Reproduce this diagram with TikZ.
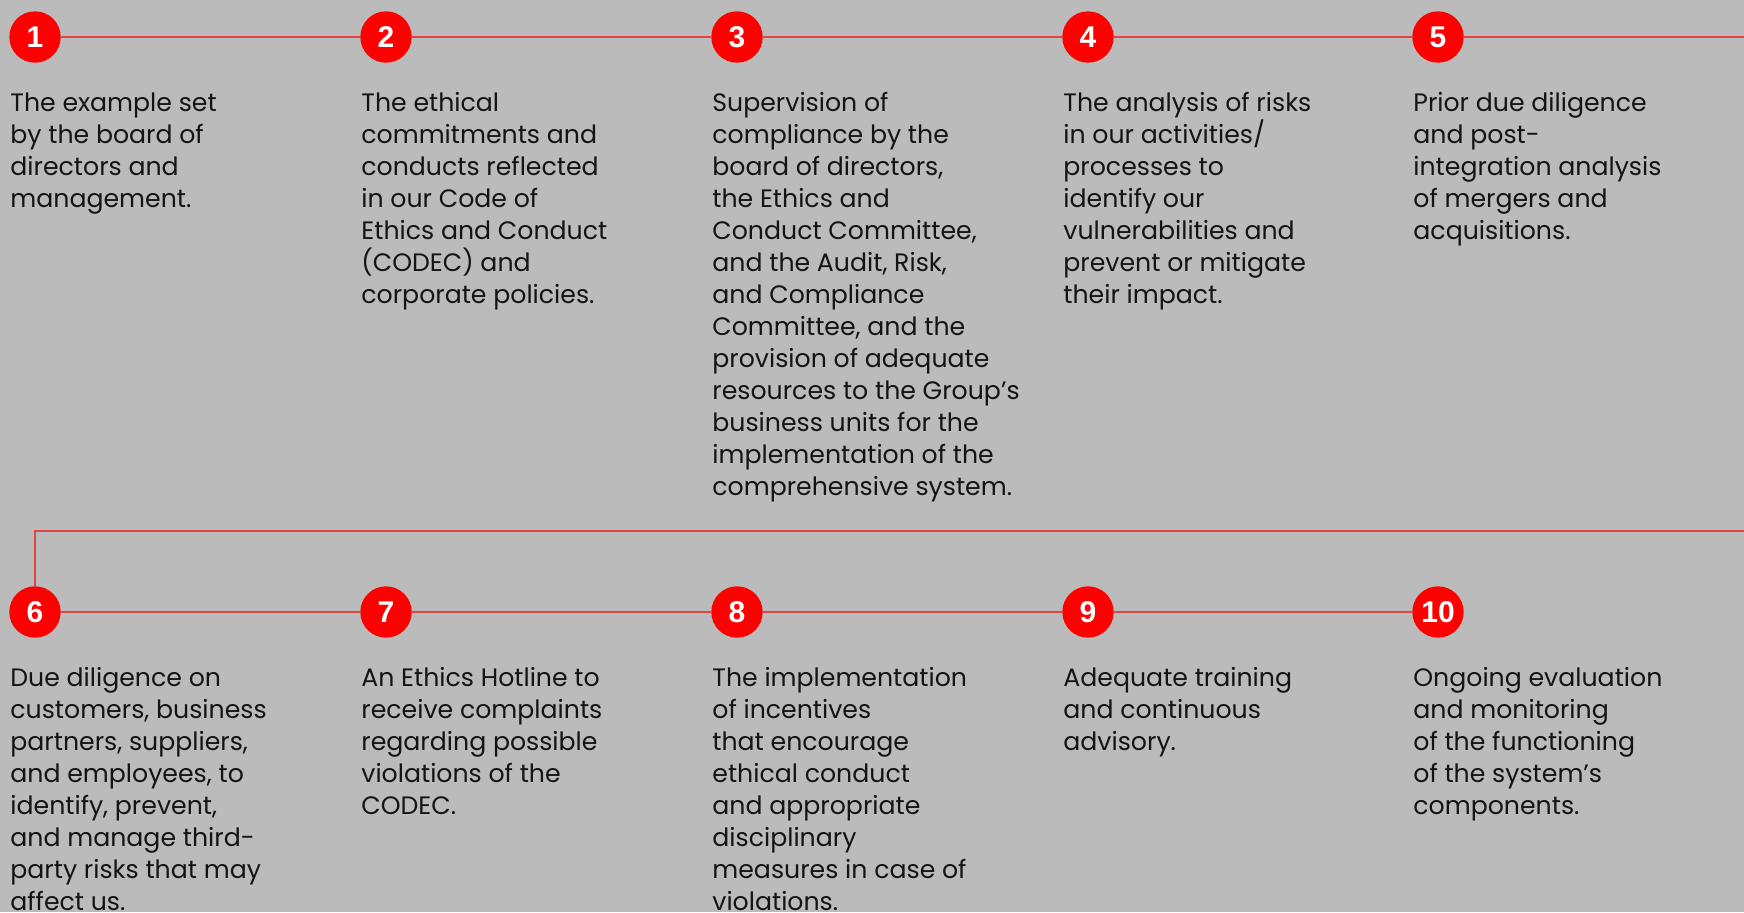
\documentclass[tikz,border=0pt]{standalone}
\usepackage{fontspec}
\setmainfont{Poppins}
\newfontfamily\numfont{Liberation Sans}
\usetikzlibrary{positioning, calc}

\definecolor{bggray}{RGB}{187,187,187}
\definecolor{dotred}{RGB}{255,0,0}
\definecolor{linkred}{RGB}{225,70,70}
\definecolor{inkgray}{RGB}{20,20,20}

\tikzset{
	numdot/.style={circle, fill=dotred, inner sep=0pt, minimum size=25.7pt, text=white, font=\numfont\bfseries\fontsize{15}{15}\selectfont},
	link/.style={draw=linkred, line width=0.6pt},
	desc/.style={anchor=north west, inner sep=0pt, align=left, text=inkgray, font=\fontsize{12.6}{16.0}\selectfont}
}

\begin{document}
\begin{tikzpicture}[x=0.5pt, y=-0.5pt]
		\useasboundingbox (0,0) rectangle (1744,912);
		\fill[bggray] (0,0) rectangle (1744,912);
		% numbered dots, two rows
		\foreach \i/\x in {1/35, 2/386, 3/737, 4/1088, 5/1438}
			\node[numdot] (n\i) at (\x,37) {\i};
		\foreach \i/\x in {6/35, 7/386, 8/737, 9/1088, 10/1438}
			\node[numdot] (n\i) at (\x,612) {\i};
		\coordinate (rt) at (1744,37);
		\coordinate (rb) at (1744,531);
		% timeline
		\foreach \a/\b in {1/2, 2/3, 3/4, 4/5, 6/7, 7/8, 8/9, 9/10}
			\draw[link] (n\a) -- (n\b);
		\draw[link] (n5) -- (rt);
		\draw[link] (rb) -| (n6);
		% texts
		\node[desc] (t1) at (10,92) {The example set\\by the board of\\directors and\\management.};
		\node[desc] (t2) at (361,92) {The ethical\\commitments and\\conducts reflected\\in our Code of\\Ethics and Conduct\\(CODEC) and\\corporate policies.};
		\node[desc] (t3) at (712,92) {Supervision of\\compliance by the\\board of directors,\\the Ethics and\\Conduct Committee,\\and the Audit, Risk,\\and Compliance\\Committee, and the\\provision of adequate\\resources to the Group’s\\business units for the\\implementation of the\\comprehensive system.};
		\node[desc] (t4) at (1063,92) {The analysis of risks\\in our activities/\\processes to\\identify our\\vulnerabilities and\\prevent or mitigate\\their impact.};
		\node[desc] (t5) at (1413,92) {Prior due diligence\\and post-\\integration analysis\\of mergers and\\acquisitions.};
		\node[desc] (t6) at (10,667) {Due diligence on\\customers, business\\partners, suppliers,\\and employees, to\\identify, prevent,\\and manage third-\\party risks that may\\affect us.};
		\node[desc] (t7) at (361,667) {An Ethics Hotline to\\receive complaints\\regarding possible\\violations of the\\CODEC.};
		\node[desc] (t8) at (712,667) {The implementation\\of incentives\\that encourage\\ethical conduct\\and appropriate\\disciplinary\\measures in case of\\violations.};
		\node[desc] (t9) at (1063,667) {Adequate training\\and continuous\\advisory.};
		\node[desc] (t10) at (1413,667) {Ongoing evaluation\\and monitoring\\of the functioning\\of the system’s\\components.};
	\end{tikzpicture}
\end{document}
